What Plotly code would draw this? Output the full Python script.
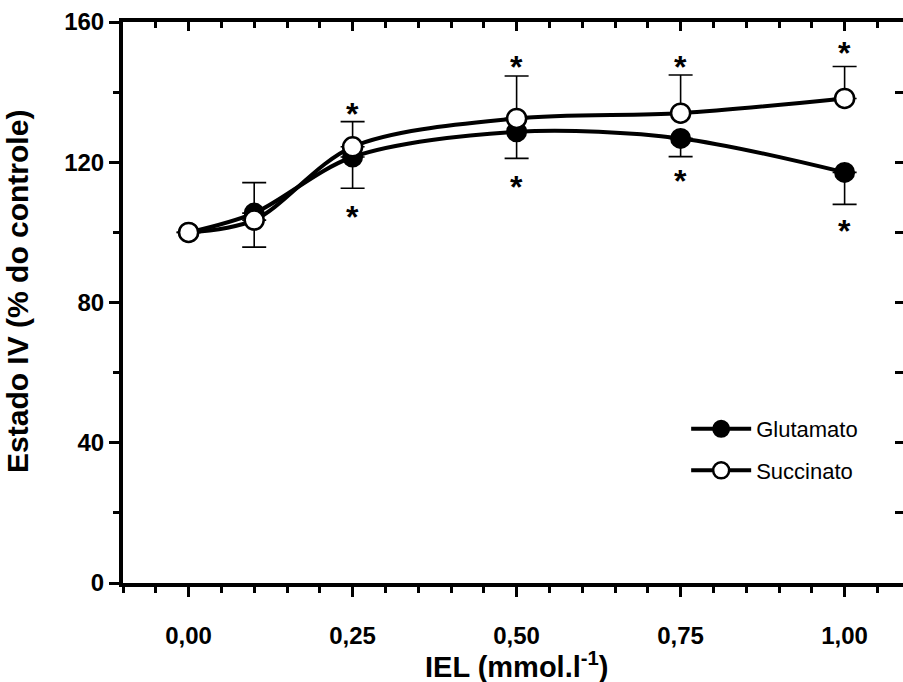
import plotly.graph_objects as go

# ---- data ----
conc = [0.0, 0.1, 0.25, 0.5, 0.75, 1.0]
glutamato = [100, 105.5, 121.5, 128.7, 126.8, 117.1]
succinato = [100, 103.5, 124.4, 132.5, 134.0, 138.2]
glut_err_low = [0, 9.7, 8.9, 7.6, 5.2, 9.1]
succ_err_up = [0, 10.7, 7.2, 12.1, 10.9, 9.1]
star_conc = [0.25, 0.5, 0.75, 1.0]
star_upper = [134.9, 148.2, 148.4, 152.2]
star_lower = [105.4, 114.0, 115.7, 101.6]

xtick_vals = [0.0, 0.25, 0.5, 0.75, 1.0]
xtick_text = ["0,00", "0,25", "0,50", "0,75", "1,00"]
ytick_vals = [0, 40, 80, 120, 160]

FONT = "Liberation Sans, Arial, Helvetica, sans-serif"
XR = [-0.1, 1.089]
YR = [0, 160]

fig = go.Figure()

fig.add_trace(go.Scatter(
    x=conc, y=glutamato, name="Glutamato", mode="lines+markers", legendgroup="g",
    line=dict(color="black", width=4, shape="spline", smoothing=0.9),
    marker=dict(symbol="circle", size=19, color="black", line=dict(color="black", width=2)),
    error_y=dict(type="data", symmetric=False, array=[0] * len(conc), arrayminus=glut_err_low,
                 color="black", thickness=1.6, width=12),
))
fig.add_trace(go.Scatter(
    x=conc, y=succinato, name="Succinato", mode="lines+markers", legendgroup="s",
    line=dict(color="black", width=4, shape="spline", smoothing=0.9),
    marker=dict(symbol="circle", size=19, color="white", line=dict(color="black", width=2.5)),
    error_y=dict(type="data", symmetric=False, array=succ_err_up, arrayminus=[0] * len(conc),
                 color="black", thickness=1.6, width=12),
))

star_annots = []
for ys in (star_upper, star_lower):
    for xv, yv in zip(star_conc, ys):
        star_annots.append(dict(x=xv, y=yv, xref="x", yref="y", text="*", showarrow=False,
                                xanchor="center", yanchor="middle", yshift=-4,
                                font=dict(family=FONT, size=32, color="black", weight="bold")))

axis_common = dict(showgrid=False, zeroline=False, linecolor="black", linewidth=4,
                   tickcolor="black", tickwidth=3)

fig.update_layout(
    width=903, height=682,
    margin=dict(l=123, r=0, t=22, b=99),
    paper_bgcolor="white", plot_bgcolor="white",
    font=dict(family=FONT, color="black"),
    xaxis=dict(range=XR, tickvals=xtick_vals, ticktext=xtick_text, ticks="outside", ticklen=10,
               showline=True, tickfont=dict(size=24, family=FONT, weight="bold"),
               ticklabelstandoff=18,
               minor=dict(dtick=0.05, tick0=0, ticks="outside", ticklen=6, tickwidth=3, tickcolor="black"),
               **axis_common),
    yaxis=dict(range=YR, tickvals=ytick_vals, ticks="outside", ticklen=10, showline=True,
               tickfont=dict(size=24, family=FONT, weight="bold"),
               minor=dict(dtick=20, tick0=0, ticks="outside", ticklen=6, tickwidth=3, tickcolor="black"),
               **axis_common),
    xaxis2=dict(range=XR, overlaying="x", side="top", tickvals=xtick_vals, ticks="inside", ticklen=9,
                showticklabels=False, showline=True,
                minor=dict(dtick=0.05, tick0=0, ticks="inside", ticklen=6, tickwidth=3, tickcolor="black"),
                **axis_common),
    yaxis2=dict(range=YR, overlaying="y", side="right", tickvals=[20, 40, 60, 80, 100, 120, 140],
                ticks="inside", ticklen=8, showticklabels=False, showline=False,
                **axis_common),
    legend=dict(x=0.722, y=0.312, xanchor="left", yanchor="top", bgcolor="rgba(0,0,0,0)",
                font=dict(size=22, family=FONT), itemwidth=60, tracegroupgap=10),
    showlegend=True,
    annotations=[
        dict(text="IEL (mmol.l<sup>-1</sup>)", xref="paper", yref="paper", x=0.504, y=-0.146,
             xanchor="center", yanchor="middle", showarrow=False,
             font=dict(size=29, family=FONT, weight="bold")),
        dict(text="Estado IV (% do controle)", xref="paper", yref="paper", x=-0.135, y=0.52,
             xanchor="center", yanchor="middle", showarrow=False, textangle=-90,
             font=dict(size=30, family=FONT, weight="bold")),
    ] + star_annots,
)

# invisible trace to activate the mirrored axes
fig.add_trace(go.Scatter(x=[0], y=[0], xaxis="x2", yaxis="y2", mode="markers",
                         marker=dict(opacity=0), showlegend=False, hoverinfo="skip"))

fig.write_html("out.html", config={"displayModeBar": False},
               post_script="document.body.style.margin='0';document.body.style.overflow='hidden';")
